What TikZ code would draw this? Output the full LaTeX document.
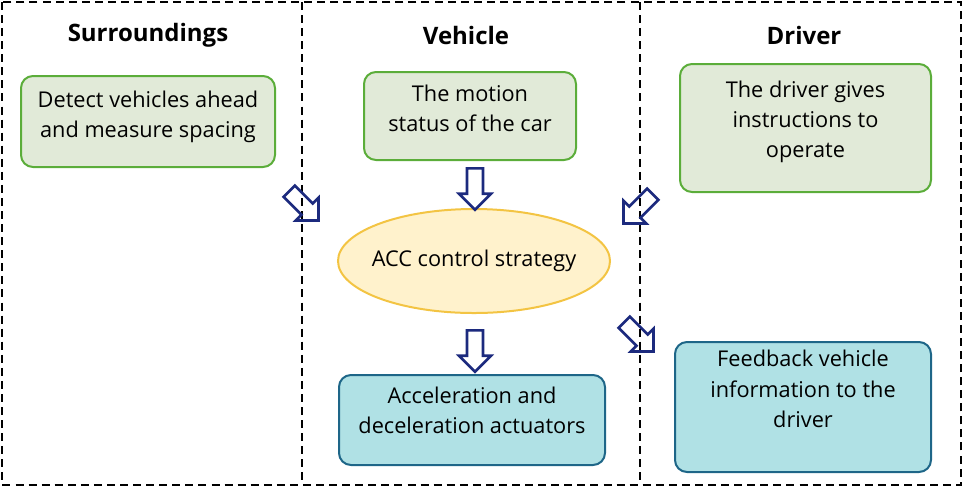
\documentclass[tikz,border=0pt]{standalone}
\usepackage{fontspec}
\setmainfont{Open Sans}
\usetikzlibrary{shapes.geometric, shapes.arrows, positioning}
\definecolor{leafFill}{HTML}{E1EAD8}
\definecolor{leafLine}{HTML}{5BAD3A}
\definecolor{skyFill}{HTML}{B0E1E5}
\definecolor{skyLine}{HTML}{1E6688}
\definecolor{sunFill}{HTML}{FFF2CC}
\definecolor{sunLine}{HTML}{F3C443}
\definecolor{navy}{HTML}{1C2A7E}

\begin{document}
\begin{tikzpicture}[x=0.75pt, y=-0.75pt, font=\fontsize{16.3}{22.8}\selectfont]
    \tikzstyle{zone} = [draw, line width=1.8pt, dash pattern=on 6pt off 3.8pt]
    \tikzstyle{title} = [font=\fontsize{18}{21}\selectfont\bfseries]
    \tikzstyle{gbox} = [rectangle, rounded corners=9pt, draw=leafLine, fill=leafFill, line width=1.5pt, align=center]
    \tikzstyle{bbox} = [rectangle, rounded corners=9pt, draw=skyLine, fill=skyFill, line width=1.5pt, align=center]
    \tikzstyle{strategy} = [ellipse, draw=sunLine, fill=sunFill, line width=1.5pt, inner sep=0pt, minimum width=204pt, minimum height=78pt]
    \tikzstyle{hollow} = [single arrow, draw=navy, line width=2pt, inner sep=5pt, minimum width=23pt, minimum height=31pt, single arrow head extend=6pt]
    \useasboundingbox (0,0) rectangle (963,487);

    % frame and columns
    \draw[zone] (2,2) rectangle (961,485);
    \draw[zone, line width=1.3pt] (302,2) -- (302,485);
    \draw[zone, line width=1.3pt] (640,2) -- (640,485);

    \node[title] (sur) at (148,35) {Surroundings};
    \node[title] (veh) at (466,35) {Vehicle};
    \node[title] (drv) at (804,35) {Driver};

    \node[gbox, minimum width=190.5pt, minimum height=68.25pt, text depth=11pt] (detect) at (148,121.5) {Detect vehicles ahead\\and measure spacing};
    \node[gbox, minimum width=159pt, minimum height=66pt, text depth=12pt] (motion) at (470,116) {The motion\\status of the car};
    \node[gbox, minimum width=188.25pt, minimum height=96pt, text depth=13pt] (order) at (805.5,128) {The driver gives\\instructions to\\operate};
    \node[strategy] (acc) at (474,261) {\makebox[100pt]{ACC control strategy}};
    \node[bbox, minimum width=199.5pt, minimum height=67.5pt, text depth=15pt] (act) at (472,420) {Acceleration and\\deceleration actuators};
    \node[bbox, minimum width=192pt, minimum height=97.5pt, text depth=27pt] (back) at (803,407) {Feedback vehicle\\information to the\\driver};

    % hollow arrows
    \node[hollow, rotate=-90] (a1) at (475,185) {};
    \node[hollow, rotate=-90] (a2) at (475,347) {};
    \node[hollow, rotate=-45] (a3) at (301,203) {};
    \node[hollow, rotate=-135] (a4) at (641,206) {};
    \node[hollow, rotate=-45] (a5) at (636,334) {};
\end{tikzpicture}
\end{document}
